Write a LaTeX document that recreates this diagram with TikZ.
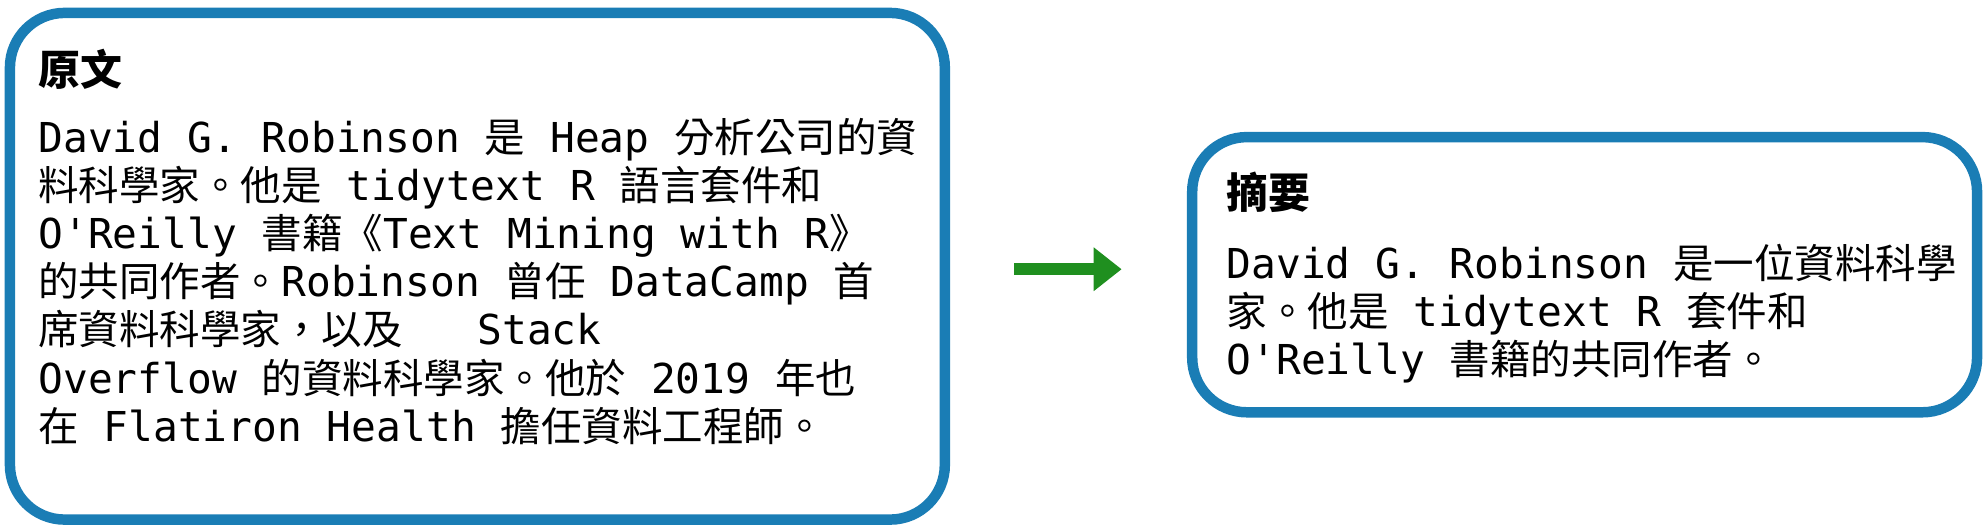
\documentclass[tikz,border=0pt]{standalone}
\usepackage{fontspec}
\setmonofont{DejaVu Sans Mono}
\newfontfamily\cjk{Noto Sans CJK TC}
\usetikzlibrary{positioning,arrows.meta}
\newcommand{\cj}[1]{{\cjk\fontsize{11.6pt}{13.8pt}\selectfont #1}}
\definecolor{boxblue}{HTML}{1A7DB5}
\definecolor{arrgreen}{HTML}{1F8F1F}
\begin{document}
\begin{tikzpicture}[
  panel/.style={draw=boxblue,line width=3pt,rounded corners=0.55cm},
  txt/.style={anchor=north west,align=left,inner sep=0pt,font=\ttfamily\fontsize{11.8pt}{13.8pt}\selectfont},
  head/.style={anchor=west,inner sep=0pt,font=\cjk\bfseries\fontsize{12pt}{13pt}\selectfont}
]
\useasboundingbox (0,0) rectangle (20,-5.32);
\draw[panel] (0.10,-0.13) rectangle (9.51,-5.23);
\draw[panel] (12.0,-1.38) rectangle (19.9,-4.15);
\node[head] (srchead) at (0.38,-0.70) {原文};
\node[txt] (srctext) at (0.38,-1.18) {David G. Robinson \cj{是} Heap \cj{分析公司的資}\\
\cj{料科學家。他是} tidytext R \cj{語言套件和}\\
O'Reilly \cj{書籍《}Text Mining with R\cj{》}\\
\cj{的共同作者。}Robinson \cj{曾任} DataCamp \cj{首}\\
\cj{席資料科學家，以及}\ \ \ Stack\\
Overflow \cj{的資料科學家。他於} 2019 \cj{年也}\\
\cj{在} Flatiron Health \cj{擔任資料工程師。}};
\node[head] (sumhead) at (12.34,-1.94) {摘要};
\node[txt] (sumtext) at (12.34,-2.45) {David G. Robinson \cj{是一位資料科學}\\
\cj{家。他是} tidytext R \cj{套件和}\\
O'Reilly \cj{書籍的共同作者。}};
\coordinate (arrs) at (10.21,-2.71);
\coordinate (arre) at (11.29,-2.71);
\draw[arrgreen,line width=3.5pt,-{Triangle[length=8pt,width=12pt]}] (arrs) -- (arre);
\end{tikzpicture}
\end{document}
